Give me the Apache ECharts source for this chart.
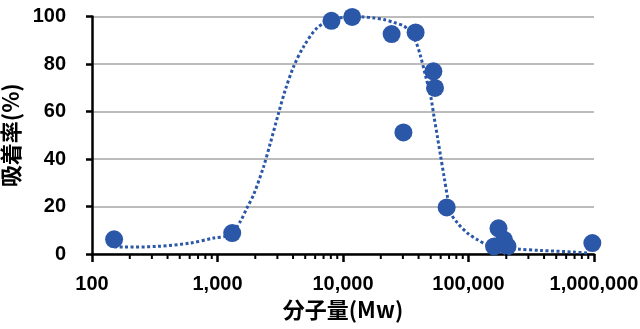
<!DOCTYPE html>
<html>
<head>
<meta charset="utf-8">
<script src="https://cdn.jsdelivr.net/npm/echarts@6/dist/echarts.min.js"></script>
<style>html,body{margin:0;padding:0;background:#fff}#c{width:640px;height:329px}</style>
</head>
<body>
<div id="c"></div>
<script>
// Sample points: molecular weight (Mw) vs adsorption rate (%)
const sampleMw   = [150, 1310, 8090, 11830, 24400, 37900, 52500, 54100, 30300, 67000, 173400, 192000, 160000, 204500, 970000];
const adsorption = [6.2, 8.8, 98.2, 99.8, 92.6, 93.3, 76.9, 69.9, 51.2, 19.6, 10.8, 6.0, 3.2, 3.2, 4.6];

// Dotted trend curve
const curveMw = [150, 178, 329, 606, 930, 1264, 1519, 1718, 1941, 2333, 2637, 3070, 3475, 4048, 4864, 6223, 8094, 11830, 14660, 17620, 21170, 25440, 30600, 32600, 37920, 41550, 45570, 49960, 53100, 56490, 59980, 63790, 67870, 72130, 81580, 98100, 117800, 141600, 246000, 377600, 696000, 890000];
const curveY  = [3.0, 2.9, 3.2, 4.6, 6.7, 8.1, 13.7, 19.4, 25.0, 36.9, 46.7, 59.4, 69.2, 79.0, 87.4, 95.2, 98.5, 100, 99.8, 99.4, 98.7, 97.5, 96.0, 94.6, 89.5, 83.2, 74.8, 66.4, 57.9, 49.5, 41.1, 32.7, 24.3, 17.3, 13.1, 8.8, 6.0, 3.9, 2.1, 1.5, 0.8, 0.4];

// Axis tick labels
const xTickValues = [100, 1000, 10000, 100000, 1000000];
const xTickLabels = ['100', '1,000', '10,000', '100,000', '1,000,000'];
const yTickLabels = ['0', '20', '40', '60', '80', '100'];
const minorTickVals = [];
[100, 1000, 10000, 100000].forEach(d => { for (let k = 2; k <= 9; k++) minorTickVals.push(d * k); });

const xName = '分子量(Mw)';
const yName = '吸着率(%)';

const blue = '#2B57A8';
const chart = echarts.init(document.getElementById('c'), null, {renderer: 'canvas'});
chart.setOption({
  animation: false,
  grid: {left: 92, right: 46, top: 16.5, bottom: 75, containLabel: false, outerBoundsMode: 'none'},
  xAxis: {
    type: 'log', logBase: 10, min: 100, max: 1000000,
    name: xName, nameLocation: 'middle', nameGap: 45,
    nameTextStyle: {fontFamily: 'Noto Sans CJK JP', fontWeight: 'bold', fontSize: 22, color: '#000'},
    axisLine: {show: true, onZero: false, lineStyle: {color: '#000', width: 2.5}},
    axisTick: {show: true, inside: false, length: 8, lineStyle: {color: '#000', width: 2.5}},
    axisLabel: {
      margin: 20, color: '#000', fontFamily: 'Liberation Sans', fontWeight: 'bold', fontSize: 20,
      formatter: v => { const i = xTickValues.findIndex(t => Math.abs(t - v) / t < 1e-6); return i >= 0 ? xTickLabels[i] : ''; }
    },
    splitLine: {show: false}
  },
  yAxis: {
    type: 'value', min: 0, max: 100, interval: 20,
    name: yName, nameLocation: 'middle', nameGap: 58, nameRotate: 90,
    nameTextStyle: {fontFamily: 'Noto Sans CJK JP', fontWeight: 'bold', fontSize: 22, color: '#000'},
    axisLine: {show: true, lineStyle: {color: '#000', width: 2.5}},
    axisTick: {show: true, inside: false, length: 6, lineStyle: {color: '#000', width: 2.5}},
    axisLabel: {
      margin: 26, color: '#000', fontFamily: 'Liberation Sans', fontWeight: 'bold', fontSize: 20,
      formatter: v => yTickLabels[Math.round(v / 20)]
    },
    splitLine: {show: true, lineStyle: {color: '#a6a6a6', width: 1.5}}
  },
  series: [
    {
      type: 'line', data: curveMw.map((x, i) => [x, curveY[i]]),
      smooth: 0.3, showSymbol: false, symbol: 'none', z: 2,
      lineStyle: {color: blue, width: 3, type: [3, 2.5]}
    },
    {
      type: 'scatter', data: sampleMw.map((x, i) => [x, adsorption[i]]),
      symbolSize: 18, z: 3,
      itemStyle: {color: blue, opacity: 1}
    },
    {
      type: 'custom', data: minorTickVals.map(v => [v, 0]), encode: {x: 0, y: 1}, silent: true, z: 5, clip: false,
      renderItem: (params, api) => {
        const p = api.coord([api.value(0), 0]);
        return {type: 'line', shape: {x1: p[0], y1: p[1], x2: p[0], y2: p[1] + 5}, style: {stroke: '#000', lineWidth: 2}};
      }
    }
  ]
});
</script>
</body>
</html>
